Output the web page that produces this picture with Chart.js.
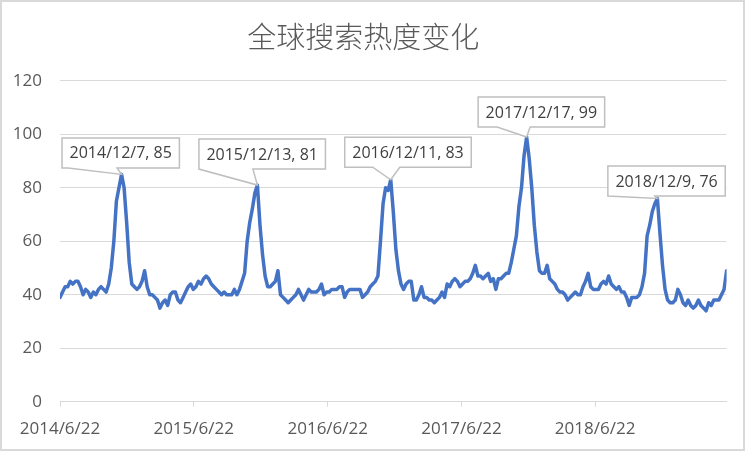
<!DOCTYPE html>
<html>
<head>
<meta charset="utf-8">
<title>全球搜索热度变化</title>
<script src="https://cdn.jsdelivr.net/npm/chart.js@4.4.0/dist/chart.umd.min.js"></script>
<style>
  html, body { margin: 0; padding: 0; background: #fff; }
  #wrap { width: 750px; height: 452px; }
</style>
</head>
<body>
<div id="wrap"><canvas id="trendChart" width="750" height="452"></canvas></div>
<script>
(function() {
  'use strict';

  // weekly search index, first week 2014/6/22
  var startDate = '2014/6/22';
  var tickLabels = ['2014/6/22', '2015/6/22', '2016/6/22', '2017/6/22', '2018/6/22'];
  var yTicks = [0, 20, 40, 60, 80, 100, 120];

  var season1 = [39, 41, 43, 43, 45, 44, 45, 45, 43, 40,
    42, 41, 39, 41, 40, 42, 43, 42, 41, 44,
    50, 60, 75, 80, 85, 80, 67, 52, 44, 43,
    42, 43, 45, 49, 43, 40, 40, 39, 38, 35,
    37, 38, 36, 40, 41, 41, 38, 37, 39, 41,
    43, 44, 42];
  var season2 = [43, 45, 44, 46, 47, 46, 44, 43, 42, 41,
    40, 41, 40, 40, 40, 42, 40, 42, 45, 48,
    60, 67, 72, 78, 81, 66, 55, 47, 43, 43,
    44, 45, 49, 40, 39, 38, 37, 38, 39, 40,
    42, 40, 38, 40, 42, 41, 41, 41, 42, 44,
    40, 41];
  var season3 = [41, 42, 42, 42, 43, 43, 39, 41, 42, 42,
    42, 42, 42, 39, 40, 41, 43, 44, 45, 47,
    60, 74, 80, 79, 83, 71, 57, 49, 44, 42,
    44, 45, 45, 38, 38, 40, 43, 39, 39, 38,
    38, 37, 38, 39, 41, 39, 44, 43, 45, 46,
    45, 43];
  var season4 = [44, 45, 45, 46, 48, 51, 47, 47, 46, 47,
    48, 45, 46, 42, 46, 46, 47, 48, 48, 52,
    57, 62, 73, 80, 92, 99, 91, 80, 66, 56,
    49, 48, 48, 51, 46, 45, 44, 42, 41, 41,
    40, 38, 39, 40, 41, 40, 40, 43, 45, 48,
    43, 42];
  var season5 = [42, 42, 44, 45, 44, 47, 44, 43, 42, 43,
    41, 41, 39, 36, 39, 39, 39, 40, 43, 48,
    62, 66, 71, 74, 76, 63, 51, 42, 38, 37,
    37, 38, 42, 40, 37, 36, 38, 36, 35, 36,
    38, 36, 35, 34, 37, 36, 38, 38, 38, 40,
    42, 49];

  var peakDates = ['2014/12/7', '2015/12/13', '2016/12/11', '2017/12/17', '2018/12/9'];
  var peakValues = [85, 81, 83, 99, 76];

  var values = season1.concat(season2, season3, season4, season5);

  function dayOffset(label) {
    var p = label.split('/');
    var s = startDate.split('/');
    var t0 = Date.UTC(+s[0], s[1] - 1, +s[2]);
    return Math.round((Date.UTC(+p[0], p[1] - 1, +p[2]) - t0) / 86400000);
  }

  var points = values.map(function(v, i) { return { x: i * 7, y: v }; });

  // callout box placement relative to its peak point
  var calloutLayout = [
    { dx: -59.5, dy: -36.5, w1: 6, w2: 55 },
    { dx: -58.5, dy: -46, w1: 0, w2: 54 },
    { dx: -46, dy: -42.5, w1: 28, w2: 55 },
    { dx: -48.5, dy: -40, w1: 19, w2: 52 },
    { dx: -49.5, dy: -32.5, w1: 0, w2: 47 }
  ];

  var textColor = '#595959';
  var gridColor = '#d9d9d9';
  var axisFont = { family: '"Open Sans", "Noto Sans", sans-serif', size: 17 };

  var calloutPlugin = {
    id: 'callouts',
    afterDatasetsDraw: function(chart) {
      var ctx = chart.ctx;
      var xs = chart.scales.x;
      var ys = chart.scales.y;
      ctx.save();
      ctx.font = '16px "Open Sans", "Noto Sans", sans-serif';
      peakDates.forEach(function(d, i) {
        var px = xs.getPixelForValue(dayOffset(d));
        var py = ys.getPixelForValue(peakValues[i]);
        var text = d + ', ' + peakValues[i];
        var tw = ctx.measureText(text).width;
        var lay = calloutLayout[i];
        var bx = px + lay.dx, by = py + lay.dy, bw = tw + 15, bh = 30;
        ctx.beginPath();
        ctx.moveTo(bx, by);
        ctx.lineTo(bx + bw, by);
        ctx.lineTo(bx + bw, by + bh);
        ctx.lineTo(bx + lay.w2, by + bh);
        ctx.lineTo(px, py);
        ctx.lineTo(bx + lay.w1, by + bh);
        ctx.lineTo(bx, by + bh);
        ctx.closePath();
        ctx.fillStyle = '#fff';
        ctx.fill();
        ctx.strokeStyle = '#bfbfbf';
        ctx.lineWidth = 1.5;
        ctx.lineJoin = 'miter';
        ctx.stroke();
        ctx.fillStyle = '#404040';
        ctx.textAlign = 'left';
        ctx.textBaseline = 'middle';
        ctx.fillText(text, bx + 7.5, by + bh / 2 + 1);
      });
      ctx.restore();
    }
  };

  var framePlugin = {
    id: 'frame',
    beforeDraw: function(chart) {
      var ctx = chart.ctx;
      ctx.save();
      ctx.fillStyle = '#fff';
      ctx.fillRect(0, 0, chart.width, chart.height);
      ctx.restore();
    },
    afterDraw: function(chart) {
      var ctx = chart.ctx;
      ctx.save();
      ctx.strokeStyle = gridColor;
      ctx.lineWidth = 2;
      ctx.strokeRect(1, 1, 743, 449);
      ctx.restore();
    }
  };

  Chart.defaults.font.family = axisFont.family;

  new Chart(document.getElementById('trendChart'), {
    type: 'line',
    data: {
      datasets: [{
        label: '全球搜索热度',
        data: points,
        borderColor: '#4472C4',
        borderWidth: 3.5,
        pointRadius: 0,
        tension: 0,
        borderJoinStyle: 'round',
        borderCapStyle: 'round',
        fill: false
      }]
    },
    options: {
      responsive: false,
      animation: false,
      devicePixelRatio: 1,
      layout: { padding: { left: 0, right: 23.4, top: 0, bottom: 0 } },
      plugins: {
        legend: { display: false },
        tooltip: { enabled: false },
        title: {
          display: true,
          text: '全球搜索热度变化',
          color: textColor,
          font: { family: '"Noto Sans CJK SC", sans-serif', size: 29, weight: '300' },
          padding: { top: 20, bottom: 26 }
        }
      },
      scales: {
        x: {
          type: 'linear',
          min: 0,
          max: (values.length - 1) * 7,
          afterBuildTicks: function(scale) {
            scale.ticks = tickLabels.map(function(l) { return { value: dayOffset(l) }; });
          },
          ticks: {
            autoSkip: false,
            maxRotation: 0,
            padding: 12,
            color: textColor,
            font: axisFont,
            callback: function(v, idx) { return tickLabels[idx]; }
          },
          grid: { drawOnChartArea: false, drawTicks: true, tickLength: 5, color: gridColor },
          border: { color: gridColor },
          afterFit: function(scale) { scale.height = 50.3; }
        },
        y: {
          min: yTicks[0],
          max: yTicks[yTicks.length - 1],
          afterBuildTicks: function(scale) {
            scale.ticks = yTicks.map(function(v) { return { value: v }; });
          },
          ticks: { padding: 18, color: textColor, font: axisFont },
          grid: { color: gridColor, drawTicks: false },
          border: { display: false },
          afterFit: function(scale) { scale.width = 60; }
        }
      }
    },
    plugins: [calloutPlugin, framePlugin]
  });
})();
</script>
</body>
</html>
